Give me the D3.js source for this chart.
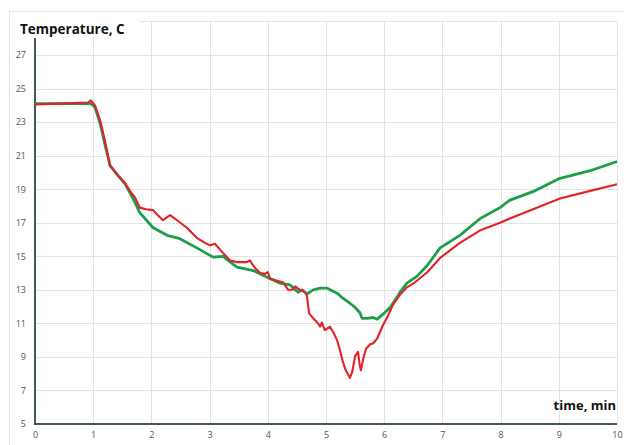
<!DOCTYPE html>
<html>
<head>
<meta charset="utf-8">
<script src="https://cdn.jsdelivr.net/npm/d3@7"></script>
<style>
  body { margin: 0; background: #fff; }
  svg { display: block; font-family: "Open Sans", "Noto Sans", sans-serif; }
</style>
</head>
<body>
<div id="graph"></div>
<script>
// Data: time (min) and temperature (C)
var redTime = [0, 0.43, 0.91, 0.96, 1.03, 1.12, 1.20, 1.29, 1.34, 1.43, 1.55, 1.63, 1.72, 1.80, 1.91, 2.03,
  2.11, 2.20, 2.32, 2.44, 2.61, 2.78, 2.92, 3.01, 3.09, 3.23, 3.35, 3.47, 3.64, 3.69, 3.78, 3.87, 3.95,
  4.00, 4.04, 4.26, 4.35, 4.42, 4.47, 4.55, 4.64, 4.67, 4.71, 4.78, 4.85, 4.90, 4.93, 4.98, 5.07, 5.12,
  5.19, 5.24, 5.29, 5.34, 5.41, 5.45, 5.50, 5.55, 5.58, 5.60, 5.64, 5.69, 5.76, 5.81, 5.88, 5.98, 6.05,
  6.15, 6.27, 6.39, 6.53, 6.74, 6.96, 7.30, 7.65, 7.99, 8.16, 8.59, 9.02, 9.54, 10.0];
var redTemp = [24.05, 24.1, 24.17, 24.3, 24.0, 23.1, 21.9, 20.4, 20.2, 19.8, 19.35, 18.9, 18.5, 17.9, 17.8, 17.75,
  17.45, 17.15, 17.45, 17.15, 16.7, 16.1, 15.8, 15.65, 15.75, 15.2, 14.75, 14.65, 14.65, 14.75, 14.3, 14.0, 13.95,
  14.05, 13.65, 13.45, 13.0, 13.0, 13.2, 13.0, 12.85, 12.7, 11.6, 11.3, 11.05, 10.8, 11.05, 10.6, 10.8, 10.5,
  10.0, 9.4, 8.7, 8.2, 7.75, 8.1, 9.05, 9.3, 8.5, 8.2, 8.9, 9.5, 9.75, 9.8, 10.1, 10.9, 11.35,
  12.1, 12.7, 13.15, 13.45, 14.05, 14.9, 15.8, 16.55, 17.0, 17.25, 17.85, 18.45, 18.9, 19.3];

var greenTime = [0, 0.43, 0.91, 0.96, 1.03, 1.12, 1.20, 1.29, 1.43, 1.55, 1.63, 1.72, 1.80, 2.03, 2.27, 2.49,
  2.78, 3.06, 3.23, 3.47, 3.75, 3.99, 4.21, 4.38, 4.52, 4.59, 4.67, 4.78, 4.90, 5.02, 5.19, 5.29, 5.41,
  5.50, 5.58, 5.62, 5.70, 5.81, 5.88, 5.98, 6.10, 6.22, 6.27, 6.39, 6.56, 6.74, 6.96, 7.30, 7.65, 7.99,
  8.16, 8.59, 9.02, 9.54, 10.0];
var greenTemp = [24.1, 24.1, 24.12, 24.1, 23.9, 22.9, 21.7, 20.4, 19.8, 19.3, 18.8, 18.2, 17.6, 16.7, 16.25, 16.05,
  15.5, 14.95, 15.0, 14.35, 14.15, 13.75, 13.4, 13.3, 12.85, 13.0, 12.75, 13.0, 13.1, 13.1, 12.8, 12.5, 12.2,
  11.95, 11.65, 11.3, 11.3, 11.35, 11.25, 11.55, 11.95, 12.55, 12.85, 13.4, 13.8, 14.45, 15.5, 16.25, 17.25, 17.9,
  18.35, 18.9, 19.65, 20.1, 20.65];

var xTicks = [0, 1, 2, 3, 4, 5, 6, 7, 8, 9, 10];
var yTicks = [5, 7, 9, 11, 13, 15, 17, 19, 21, 23, 25, 27];
var yGrid = [7, 9, 11, 13, 15, 17, 19, 21, 23, 25, 27, 29];

// Graph dimensions
var width = 624, height = 445;
var left = 35, right = 617, bottom = 424;

// Set ranges
var x = d3.scaleLinear().domain([0, 10]).range([left, right]),
    y = d3.scaleLinear().domain([5, 27]).range([bottom, 55]);

var svg = d3.select('#graph')
    .append('svg')
    .attr('width', width)
    .attr('height', height);

// Outer frame
svg.append('rect')
    .attr('x', 9.5).attr('y', 11.5)
    .attr('width', 640).attr('height', 460)
    .attr('fill', 'none')
    .attr('stroke', '#e4e4e4');

// Grid
svg.append('g')
    .selectAll('line')
    .data(yGrid)
    .enter()
    .append('line')
        .attr('x1', left).attr('x2', right)
        .attr('y1', function(d) { return Math.round(y(d)) + 0.5; })
        .attr('y2', function(d) { return Math.round(y(d)) + 0.5; })
        .attr('stroke', '#e3e3e3');
svg.append('g')
    .selectAll('line')
    .data(xTicks.slice(1))
    .enter()
    .append('line')
        .attr('x1', function(d) { return Math.round(x(d)) + 0.5; })
        .attr('x2', function(d) { return Math.round(x(d)) + 0.5; })
        .attr('y1', y(29)).attr('y2', bottom)
        .attr('stroke', '#e3e3e3');

// Title box covers the top of the grid
svg.append('rect')
    .attr('x', 11).attr('y', 13)
    .attr('width', 128).attr('height', 24)
    .attr('fill', '#fff');

// Axes
var xAxis = d3.axisBottom(x).tickValues(xTicks).tickSize(0).tickPadding(8),
    yAxis = d3.axisLeft(y).tickValues(yTicks).tickSize(0).tickPadding(9);

var gx = svg.append('g')
    .attr('transform', 'translate(0,' + bottom + ')')
    .call(xAxis);
var gy = svg.append('g')
    .attr('transform', 'translate(' + left + ',0)')
    .call(yAxis);
[gx, gy].forEach(function(g) {
    g.select('.domain').remove();
    g.selectAll('text')
        .attr('fill', '#555')
        .style('font-size', '9px')
        .style('font-family', '"Open Sans", sans-serif');
});

svg.append('line')
    .attr('x1', left).attr('x2', left)
    .attr('y1', 38).attr('y2', bottom + 1)
    .attr('stroke', '#45565d').attr('stroke-width', 2);
svg.append('line')
    .attr('x1', left - 1).attr('x2', right)
    .attr('y1', bottom).attr('y2', bottom)
    .attr('stroke', '#45565d').attr('stroke-width', 2);

// Lines
var line = d3.line()
    .x(function(d) { return x(d[0]); })
    .y(function(d) { return y(d[1]); });

var red = d3.zip(redTime, redTemp),
    green = d3.zip(greenTime, greenTemp);

svg.append('path')
    .attr('d', line(green))
    .attr('fill', 'none')
    .attr('stroke', '#1c9f48')
    .attr('stroke-width', 2.8)
    .attr('stroke-linejoin', 'round');
svg.append('path')
    .attr('d', line(red))
    .attr('fill', 'none')
    .attr('stroke', '#e32129')
    .attr('stroke-width', 2.1)
    .attr('stroke-linejoin', 'round');

// Labels
svg.append('text')
    .attr('x', 20).attr('y', 34)
    .attr('font-weight', 'bold')
    .attr('font-size', 13.5)
    .attr('fill', '#111')
    .text('Temperature, C');
svg.append('text')
    .attr('x', 616).attr('y', 410)
    .attr('text-anchor', 'end')
    .attr('font-weight', 'bold')
    .attr('font-size', 13)
    .attr('fill', '#111')
    .text('time, min');
</script>
</body>
</html>
